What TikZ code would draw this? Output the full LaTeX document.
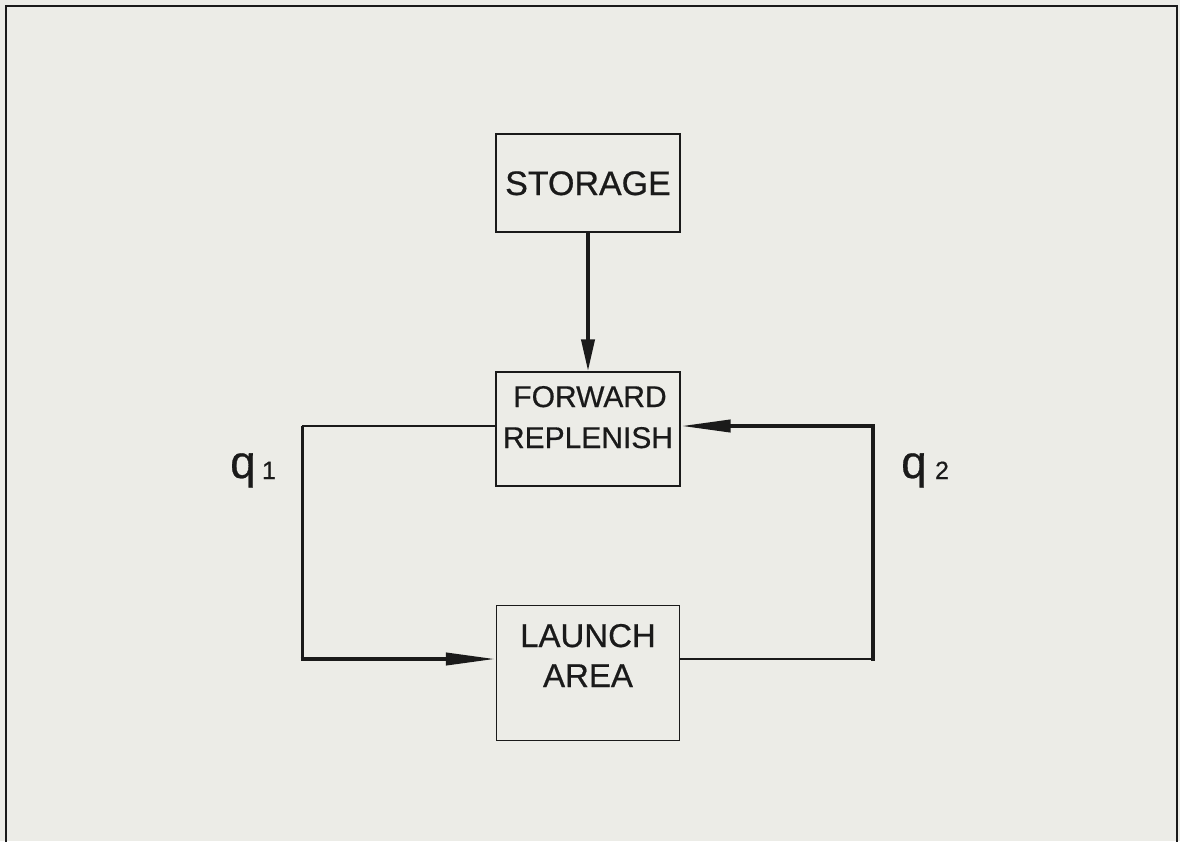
\documentclass[tikz,border=0pt]{standalone}
\usepackage{fontspec}
\setmainfont{Liberation Sans}
\newfontfamily\heavyfont{Liberation Sans}[FakeBold=0.6]
\usetikzlibrary{arrows.meta}
\definecolor{bg}{HTML}{ECECE7}
\definecolor{ink}{HTML}{1A1A1A}
\tikzset{
  box/.style={draw=ink, line width=1.4pt, fill=none, inner sep=0pt},
  lbl/.style={anchor=base, inner sep=0pt, text=ink},
  thin/.style={draw=ink, line width=2.2pt},
  thick/.style={draw=ink, line width=4pt},
  vtip/.style={-{Triangle[length=32pt,width=13pt]}},
  htip/.style={-{Triangle[length=50pt,width=12pt]}},
}
\begin{document}
\begin{tikzpicture}[x=1pt,y=-1pt]
\useasboundingbox (0,0) rectangle (1180,841);
\fill[bg] (0,0) rectangle (1180,841);
% frame
\draw[ink, line width=2.6pt] (6,850) -- (6,6) -- (1177,6) -- (1177,850);
% boxes
\node[box, minimum width=184pt, minimum height=98pt] (storage) at (588,183) {};
\node[box, minimum width=184pt, minimum height=114pt] (fwd) at (588,429) {};
\node[box, minimum width=183pt, minimum height=135pt] (launch) at (588,673) {};
% texts
\node[lbl, font=\heavyfont\fontsize{34}{40}\selectfont] (tstorage) at (588,195) {STORAGE};
\node[lbl, font=\heavyfont\fontsize{30}{40}\selectfont] (tfwd1) at (590,407) {FORWARD};
\node[lbl, font=\heavyfont\fontsize{30}{40}\selectfont] (tfwd2) at (588,448) {REPLENISH};
\node[lbl, font=\heavyfont\fontsize{33}{40}\selectfont] (tla1) at (588,647) {LAUNCH};
\node[lbl, font=\heavyfont\fontsize{33}{40}\selectfont] (tla2) at (588,687) {AREA};
% corner coordinates
\coordinate (lt) at (302,426);
\coordinate (lb) at (302,659);
\coordinate (rt) at (873,426);
\coordinate (rb) at (873,659);
% connectors
\draw[thick, vtip] (storage.south) -- (fwd.north);
\draw[thin] (fwd.west |- lt) -- (lt);
\draw[ink, line width=3pt] (lt) -- (lb);
\draw[thick, htip] ([xshift=-1.5pt]lb) -- (launch.west |- lb);
\draw[thin] (launch.east |- rb) -- (rb);
\draw[thick] ([yshift=-1.5pt]rb) -- (rt);
\draw[thick, htip] ([xshift=1.5pt]rt) -- (fwd.east |- rt);
% labels
\node[lbl, font=\heavyfont\fontsize{46}{50}\selectfont] (q1) at (243,478) {q};
\node[lbl, font=\heavyfont\fontsize{25}{28}\selectfont] (q1s) at (269,479) {1};
\node[lbl, font=\heavyfont\fontsize{46}{50}\selectfont] (q2) at (914,478) {q};
\node[lbl, font=\heavyfont\fontsize{25}{28}\selectfont] (q2s) at (942,479) {2};
\end{tikzpicture}
\end{document}
